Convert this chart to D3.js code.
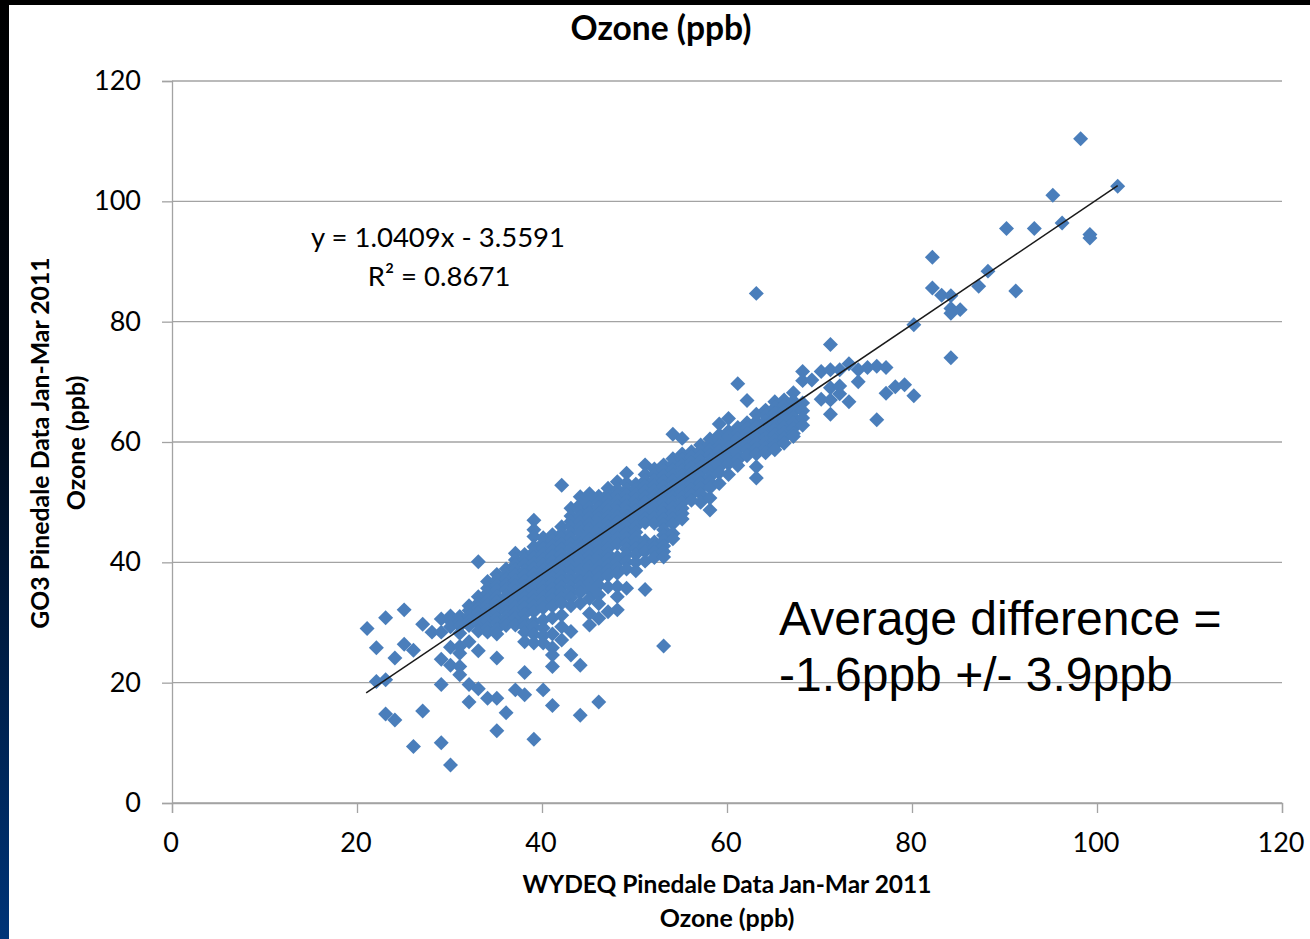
<!DOCTYPE html>
<meta charset="utf-8">
<style>
  body { margin: 0; background: #fff; }
  svg { display: block; }
  text { fill: #000; }
  .lbl { font-family: Lato, sans-serif; }
</style>
<body>
<svg></svg>
<script src="https://d3js.org/d3.v7.min.js"></script>
<script>

// WYDEQ readings come in whole ppb, so the points are kept per WYDEQ value
var wydeq = [21,22,23,24,25,26,27,28,29,30,31,32,33,34,35,36,37,38,39,40,
  41,42,43,44,45,46,47,48,49,50,51,52,53,54,55,56,57,58,59,60,
  61,62,63,64,65,66,67,68,69,70,71,72,73,74,75,76,77,78,79,80,
  82,83,84,85,87,88,90,91,93,95,96,98,99,102];

var go3 = [
  [29.0],
  [25.8,20.2],
  [30.8,20.5,14.8],
  [24.1,13.8],
  [32.1,26.4],
  [25.4,9.4],
  [29.7,15.3],
  [28.4],
  [30.6,28.4,23.9,19.7,10.0],
  [31.1,30.2,29.3,25.9,22.9,6.3],
  [31.0,30.1,29.4,28.2,26.0,24.9,22.7,21.3],
  [32.8,32.0,31.1,30.2,29.5,26.8,19.7,16.8],
  [40.1,34.3,33.2,32.4,31.6,30.7,29.8,28.6,25.3,19.0],
  [36.8,35.7,34.9,33.8,32.9,32.1,31.3,30.2,29.1,28.4,17.4],
  [38.0,37.1,36.2,35.4,34.3,33.5,32.6,31.8,30.7,29.9,28.9,28.1,24.1,17.4,12.0],
  [38.9,38.0,37.2,36.3,35.5,34.4,33.6,32.7,31.8,30.9,30.1,29.5,15.0],
  [41.5,40.4,39.6,38.8,37.9,37.0,36.1,35.2,34.3,33.5,32.6,31.7,30.8,29.6,18.8],
  [41.3,40.5,39.7,38.6,37.8,36.9,36.0,35.1,34.2,33.3,32.5,31.4,30.2,29.3,28.4,26.8,21.7,18.0],
  [47.0,45.4,44.3,42.6,41.7,40.8,39.9,39.0,38.1,37.2,36.3,35.4,34.5,33.6,32.7,31.8,30.1,29.2,28.0,26.6,10.6],
  [44.1,43.2,42.3,41.4,40.5,39.6,38.7,37.8,36.9,36.0,35.1,34.2,33.3,32.4,30.4,29.1,27.8,26.6,18.8],
  [44.6,43.6,42.7,41.9,41.0,40.1,39.2,38.3,37.4,36.5,35.6,34.7,33.8,32.7,30.8,28.1,25.8,24.6,22.7,16.2],
  [52.8,45.9,44.8,44.0,43.1,42.2,41.3,40.4,39.5,38.6,37.7,36.8,35.9,35.0,34.1,33.2,31.2,29.3,27.1],
  [49.0,47.7,46.8,45.9,44.9,44.0,43.1,42.2,41.3,40.4,39.5,38.6,37.7,36.8,35.9,35.0,34.1,32.8,28.5,24.6],
  [50.9,49.6,48.5,47.6,46.7,45.8,44.9,44.0,43.1,42.2,41.3,40.4,39.5,38.6,37.7,36.8,35.9,35.0,33.2,22.9,14.6],
  [51.4,50.2,49.1,48.3,47.4,46.5,45.6,44.7,43.8,42.9,42.0,41.1,40.2,39.3,38.4,37.5,36.6,35.4,34.0,31.5,29.6],
  [51.0,50.0,49.1,48.2,47.3,46.4,45.5,44.6,43.7,42.8,41.9,41.0,40.1,39.2,38.3,37.4,36.2,34.6,33.1,30.7,16.8],
  [52.3,51.3,50.4,49.5,48.6,47.7,46.8,45.9,45.0,44.1,43.2,42.3,41.4,40.5,39.6,38.7,37.8,35.9,31.8],
  [53.4,52.1,51.2,50.3,49.4,48.5,47.6,46.7,45.8,44.9,44.0,43.1,40.9,40.0,39.1,38.2,36.0,34.3,32.1],
  [54.8,53.2,52.1,51.2,50.3,49.4,48.5,47.6,46.7,45.8,44.9,44.0,43.1,42.2,41.3,40.1,38.9,35.7],
  [53.0,52.2,51.3,50.4,49.5,48.6,47.7,46.8,45.9,45.0,44.1,43.2,42.3,41.3,40.0,38.6],
  [56.2,54.6,53.6,52.7,51.8,50.9,50.0,49.1,48.2,47.3,46.6,43.6,42.7,41.8,40.2,35.5],
  [55.5,54.6,53.7,52.8,51.9,51.0,50.1,49.2,48.3,47.4,46.5,43.4,42.5,41.7,40.8],
  [56.2,55.3,54.4,53.5,52.6,51.7,50.8,49.9,49.0,48.1,47.2,46.3,45.4,44.5,43.6,42.7,41.8,40.9,26.1],
  [61.3,57.2,56.3,55.4,54.5,53.6,52.7,51.8,50.9,50.0,49.1,48.2,47.3,46.4,44.8,43.9],
  [60.6,58.0,57.1,56.2,55.3,54.4,53.5,52.6,51.7,50.8,49.9,49.0,48.1,47.2],
  [58.4,57.5,56.6,55.7,54.8,53.9,53.0,52.1,51.2,50.3],
  [59.5,58.6,57.7,56.8,55.9,55.0,54.1,53.2,52.3,51.4,50.0],
  [60.5,59.6,58.7,57.8,56.9,56.0,55.1,54.2,53.3,52.4,50.7,48.7],
  [63.0,61.2,60.3,59.4,58.5,57.6,56.7,55.8,54.9,53.1],
  [63.9,61.8,60.9,60.0,59.1,58.2,57.3,56.4,54.6],
  [69.7,62.4,61.5,60.6,59.7,58.8,57.9,57.0,56.1],
  [66.9,63.2,62.3,61.4,60.5,59.6,58.7,57.7],
  [84.7,64.6,63.4,62.5,61.6,60.7,59.8,58.9,58.0,55.9,54.0],
  [65.3,64.4,63.5,62.6,61.7,60.8,59.9,59.0,58.2],
  [66.7,65.7,64.8,63.9,63.0,62.1,61.2,60.3,59.4,58.7],
  [67.0,66.1,65.2,64.3,63.4,62.5,61.6,60.7,59.8],
  [68.2,66.8,65.9,65.0,64.1,63.2,62.3,61.4,60.9],
  [71.7,70.2,66.5,65.2,64.0,62.8],
  [70.3],
  [71.7,67.1],
  [76.2,72.0,69.0,67.0,64.6],
  [72.0,69.3,68.0],
  [73.0,66.7],
  [72.0,70.0],
  [72.4],
  [72.6,63.7],
  [72.4,68.1],
  [69.2],
  [69.5],
  [79.5,67.7],
  [90.7,85.6],
  [84.4],
  [84.3,82.2,81.4,74.0],
  [82.0],
  [85.9],
  [88.4],
  [95.5],
  [85.1],
  [95.5],
  [101.0],
  [96.4],
  [110.4],
  [94.5,93.9],
  [102.5]
];

// ends of the fitted line
var trendX = [20.9, 102];
var trendY = [18.3, 102.6];

var xTicks = [0,20,40,60,80,100,120];
var yTicks = [0,20,40,60,80,100,120];

var width = 1310;
var height = 939;

var svg = d3.select('svg').attr('width', width).attr('height', height);

// slide background showing at the edges
var grad = svg.append('defs').append('linearGradient')
    .attr('id', 'slide').attr('x1', 0).attr('x2', 0).attr('y1', 0).attr('y2', 1);
grad.append('stop').attr('offset', '0%').attr('stop-color', '#000');
grad.append('stop').attr('offset', '40%').attr('stop-color', '#000814');
grad.append('stop').attr('offset', '100%').attr('stop-color', '#003478');

svg.append('rect').attr('width', 9).attr('height', height).attr('fill', 'url(#slide)');
svg.append('rect').attr('width', width).attr('height', 5).attr('fill', '#000');

var x = d3.scaleLinear().domain([0, 120]).range([172, 1282]);
var y = d3.scaleLinear().domain([0, 120]).range([803, 81]);
// the markers drift a little right of the ticks in the original
var xMark = d3.scaleLinear().domain([0, 120]).range([172.5, 1284.5]);

// grid
svg.append('g').selectAll('line')
    .data(yTicks)
    .enter().append('line')
    .attr('x1', 172).attr('x2', 1282)
    .attr('y1', function (d) { return y(d); })
    .attr('y2', function (d) { return y(d); })
    .style('stroke', '#a3a3a3')
    .style('stroke-width', 1.3);

var xAxis = svg.append('g')
    .attr('transform', 'translate(0,' + y(0) + ')')
    .call(d3.axisBottom(x).tickValues(xTicks).tickSize(10).tickPadding(20));
var yAxis = svg.append('g')
    .attr('transform', 'translate(' + x(0) + ',0)')
    .call(d3.axisLeft(y).tickValues(yTicks).tickSize(10).tickPadding(21));

[xAxis, yAxis].forEach(function (a) {
  a.selectAll('.domain, line').style('stroke', '#a3a3a3').style('stroke-width', 1.3);
  a.selectAll('text').attr('class', 'lbl').style('font-size', '27px').style('fill', '#000');
});
xAxis.selectAll('text').attr('dx', -1.5);

// points
var points = [];
wydeq.forEach(function (v, i) {
  go3[i].forEach(function (g) { points.push([v, g]); });
});

var diamond = d3.symbol().type(d3.symbolSquare).size(112);
svg.append('g').selectAll('path')
    .data(points)
    .enter().append('path')
    .attr('d', diamond)
    .attr('transform', function (d) { return 'translate(' + xMark(d[0]) + ',' + y(d[1]) + ')rotate(45)'; })
    .style('fill', '#4a7ebb');

// trend line
svg.append('line')
    .attr('x1', xMark(trendX[0])).attr('y1', y(trendY[0]))
    .attr('x2', xMark(trendX[1])).attr('y2', y(trendY[1]))
    .style('stroke', '#1a1a1a')
    .style('stroke-width', 1.5);

function label(txt, px, py, size, weight, rotate, family) {
  var t = svg.append('text')
      .attr('text-anchor', 'middle')
      .attr('dominant-baseline', 'central')
      .attr('transform', 'translate(' + px + ',' + py + ')' + (rotate ? 'rotate(' + rotate + ')' : ''))
      .style('font-family', family || 'Lato, sans-serif')
      .style('font-size', size + 'px')
      .style('font-weight', weight)
      .text(txt);
  return t;
}

label('Ozone (ppb)', 661, 27, 33.6, 700);
label('WYDEQ Pinedale Data Jan-Mar 2011', 727, 883, 24.5, 700);
label('Ozone (ppb)', 727, 917, 25, 700);
label('GO3 Pinedale Data Jan-Mar 2011', 39, 443, 24.8, 700, -90);
label('Ozone (ppb)', 75, 443, 25, 700, -90);
label('y = 1.0409x - 3.5591', 438, 236, 27.5, 400);
label('R\u00b2 = 0.8671', 439, 275, 27.5, 400);

svg.append('text').attr('x', 779).attr('y', 635)
    .style('font-family', '"Liberation Sans", Arial, sans-serif').style('font-size', '48px')
    .text('Average difference =');
svg.append('text').attr('x', 779).attr('y', 691)
    .style('font-family', '"Liberation Sans", Arial, sans-serif').style('font-size', '48px')
    .text('-1.6ppb +/- 3.9ppb');

</script>
</body>
